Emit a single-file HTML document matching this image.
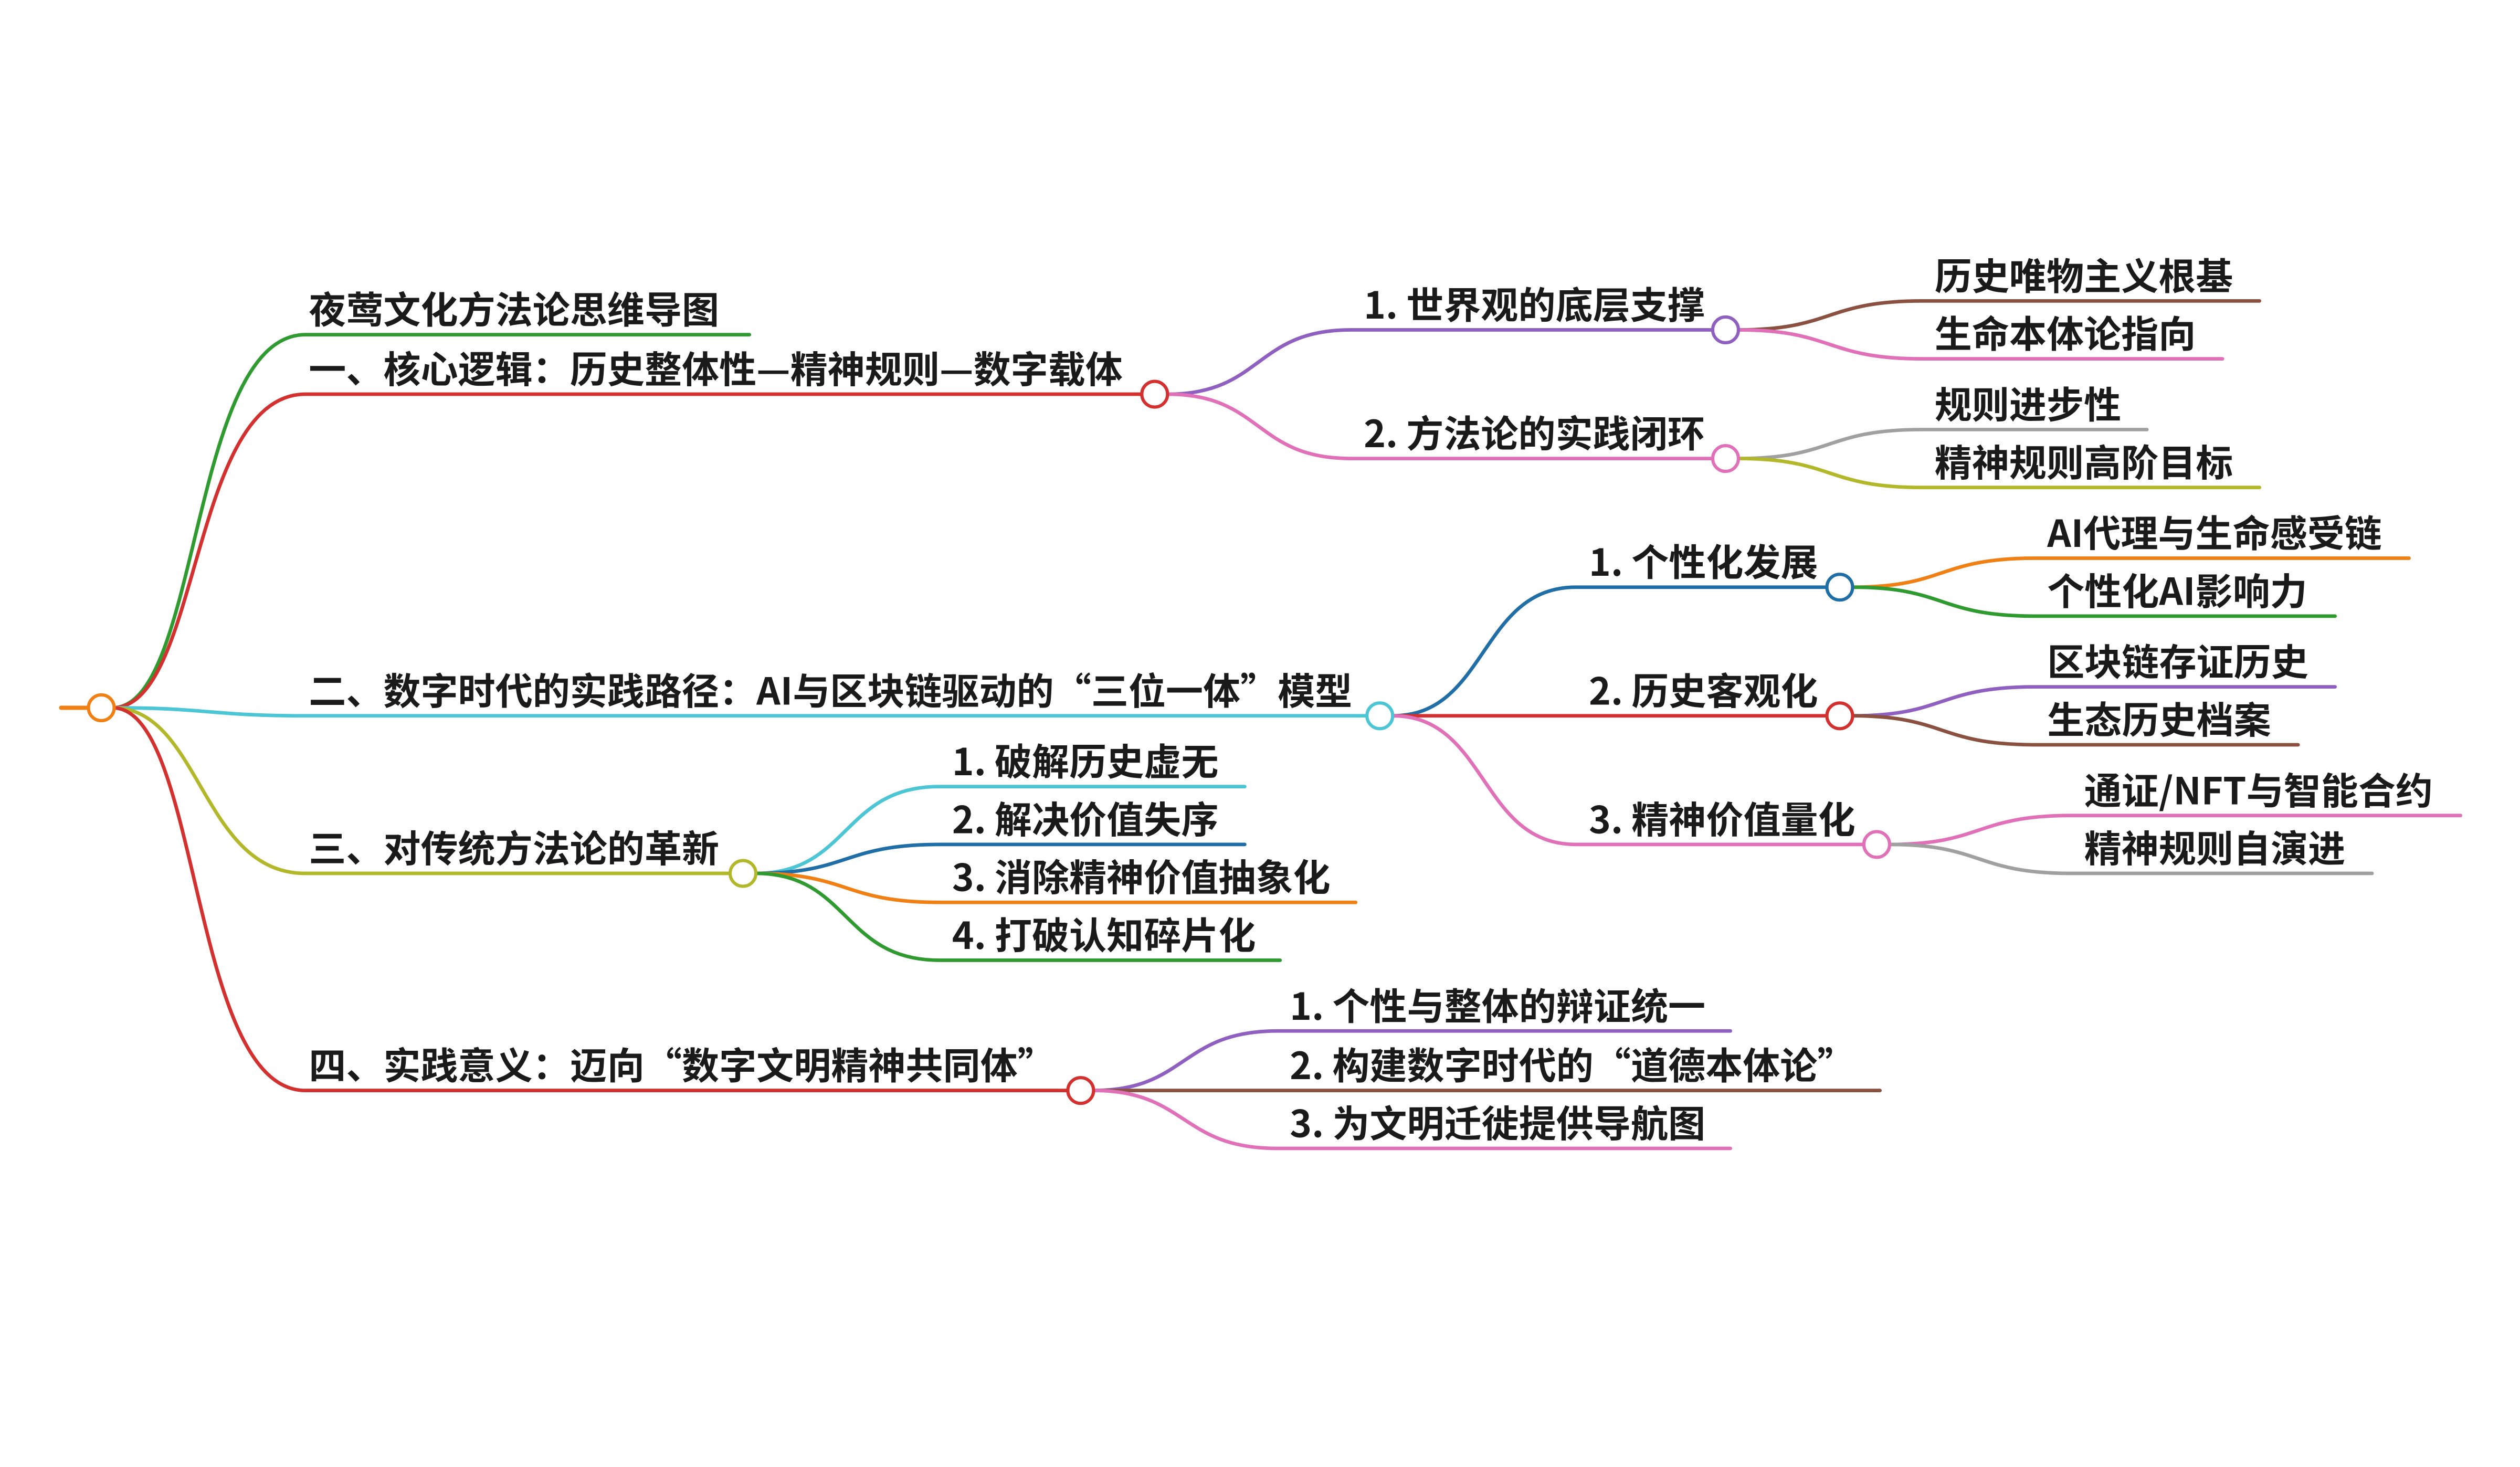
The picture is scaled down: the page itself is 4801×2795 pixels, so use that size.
<!DOCTYPE html>
<html><head><meta charset="utf-8"><style>
html,body{margin:0;padding:0;background:#fff;}
svg{display:block;}
text{font-family:"Noto Sans CJK SC","Liberation Sans",sans-serif;font-weight:bold;font-size:23.2px;fill:#1a1a1a;}
</style></head><body>
<svg width="4801" height="2795" viewBox="0 0 1567 912" xmlns="http://www.w3.org/2000/svg">
<g fill="none" stroke-width="2.2" stroke-linecap="round">
<path d="M38 440 H56" stroke="#f07f14" stroke-width="2.6"/>
<path d="M70 440 C125 440 118 208 190 208 H466" stroke="#2f9a2f"/>
<path d="M70 440 C125 440 118 245 190 245 H710" stroke="#d2312f"/>
<path d="M70 440 C130 440 130 445 190 445 H850" stroke="#4cc6d4"/>
<path d="M70 440 C125 440 125 543 190 543 H454" stroke="#b3b82a"/>
<path d="M70 440 C125 440 118 678 190 678 H664" stroke="#d2312f"/>
<path d="M726 245 C785 245 780 205 840 205 H1065" stroke="#9060c0"/>
<path d="M726 245 C785 245 780 285 840 285 H1065" stroke="#e070b8"/>
<path d="M1081 205 C1140 205 1135 187 1195 187 H1405" stroke="#8a5040"/>
<path d="M1081 205 C1140 205 1135 223 1195 223 H1382" stroke="#e070b8"/>
<path d="M1081 285 C1140 285 1135 267 1195 267 H1335" stroke="#a0a0a0"/>
<path d="M1081 285 C1140 285 1135 303 1195 303 H1405" stroke="#b3b82a"/>
<path d="M866 445 C925 445 920 365 980 365 H1136" stroke="#1f6ea6"/>
<path d="M866 445 H1136" stroke="#d2312f"/>
<path d="M866 445 C925 445 920 525 980 525 H1159" stroke="#e070b8"/>
<path d="M1152 365 C1210 365 1205 347 1265 347 H1498" stroke="#f07f14"/>
<path d="M1152 365 C1210 365 1205 383 1265 383 H1452" stroke="#2f9a2f"/>
<path d="M1152 445 C1210 445 1205 427 1265 427 H1452" stroke="#9060c0"/>
<path d="M1152 445 C1210 445 1205 463 1265 463 H1429" stroke="#8a5040"/>
<path d="M1175 525 C1233 525 1228 507 1288 507 H1530" stroke="#e070b8"/>
<path d="M1175 525 C1233 525 1228 543 1288 543 H1475" stroke="#a0a0a0"/>
<path d="M470 543 C528 543 524 489 584 489 H774" stroke="#4cc6d4"/>
<path d="M470 543 C528 543 524 525 584 525 H774" stroke="#1f6ea6"/>
<path d="M470 543 C528 543 524 561 584 561 H843" stroke="#f07f14"/>
<path d="M470 543 C528 543 524 597 584 597 H796" stroke="#2f9a2f"/>
<path d="M680 678 C738 678 734 641 794 641 H1076" stroke="#9060c0"/>
<path d="M680 678 H1169" stroke="#8a5040"/>
<path d="M680 678 C738 678 734 714 794 714 H1076" stroke="#e070b8"/>
</g>
<g fill="#fff" stroke-width="2">
<circle cx="63" cy="440" r="8" stroke="#f07f14"/>
<circle cx="718" cy="245" r="8" stroke="#d2312f"/>
<circle cx="858" cy="445" r="8" stroke="#4cc6d4"/>
<circle cx="462" cy="543" r="8" stroke="#b3b82a"/>
<circle cx="672" cy="678" r="8" stroke="#d2312f"/>
<circle cx="1073" cy="205" r="8" stroke="#9060c0"/>
<circle cx="1073" cy="285" r="8" stroke="#e070b8"/>
<circle cx="1144" cy="365" r="8" stroke="#1f6ea6"/>
<circle cx="1144" cy="445" r="8" stroke="#d2312f"/>
<circle cx="1167" cy="525" r="8" stroke="#e070b8"/>
</g>
<text x="192" y="201">夜莺文化方法论思维导图</text>
<text x="192" y="238">一、核心逻辑：历史整体性—精神规则—数字载体</text>
<text x="192" y="438">二、数字时代的实践路径：AI与区块链驱动的“三位一体”模型</text>
<text x="192" y="536">三、对传统方法论的革新</text>
<text x="192" y="671">四、实践意义：迈向“数字文明精神共同体”</text>
<text x="848" y="198">1. 世界观的底层支撑</text>
<text x="848" y="278">2. 方法论的实践闭环</text>
<text x="1203" y="180">历史唯物主义根基</text>
<text x="1203" y="216">生命本体论指向</text>
<text x="1203" y="260">规则进步性</text>
<text x="1203" y="296">精神规则高阶目标</text>
<text x="988" y="358">1. 个性化发展</text>
<text x="988" y="438">2. 历史客观化</text>
<text x="988" y="518">3. 精神价值量化</text>
<text x="1273" y="340">AI代理与生命感受链</text>
<text x="1273" y="376">个性化AI影响力</text>
<text x="1273" y="420">区块链存证历史</text>
<text x="1273" y="456">生态历史档案</text>
<text x="1296" y="500">通证/NFT与智能合约</text>
<text x="1296" y="536">精神规则自演进</text>
<text x="592" y="482">1. 破解历史虚无</text>
<text x="592" y="518">2. 解决价值失序</text>
<text x="592" y="554">3. 消除精神价值抽象化</text>
<text x="592" y="590">4. 打破认知碎片化</text>
<text x="802" y="634">1. 个性与整体的辩证统一</text>
<text x="802" y="671">2. 构建数字时代的“道德本体论”</text>
<text x="802" y="707">3. 为文明迁徙提供导航图</text>
</svg>
</body></html>
